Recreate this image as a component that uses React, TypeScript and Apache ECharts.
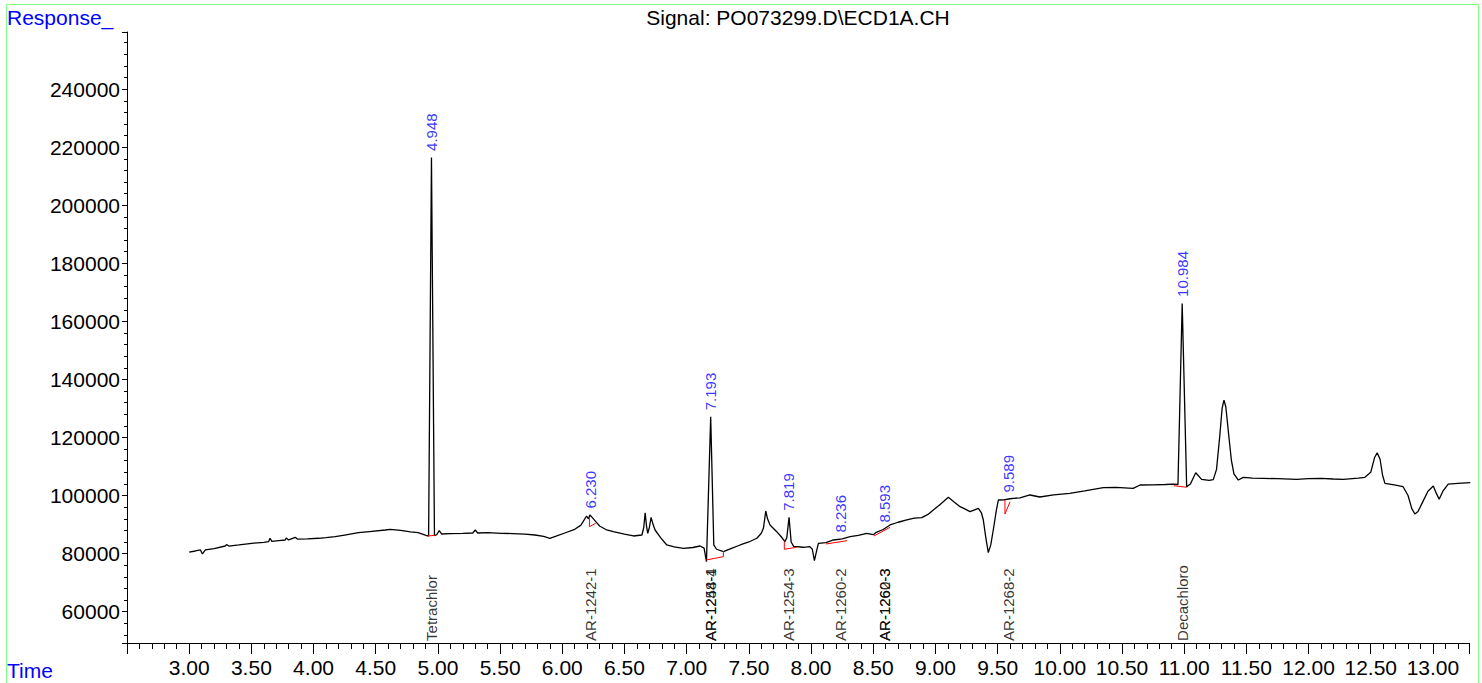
import React, { useEffect, useRef } from "react";
import * as echarts from "echarts";

// Chromatogram trace: [time (min), response]
const trace: [number, number][] = [
  [3.0, 80500], [3.05, 80900], [3.09, 81250], [3.107, 79870], [3.13, 81250], [3.2, 81700],
  [3.29, 82620], [3.3, 83100], [3.32, 82600], [3.4, 83000], [3.504, 83550], [3.6, 83900],
  [3.638, 84100], [3.65, 85280], [3.665, 84200], [3.72, 84500], [3.772, 84690], [3.78, 85400],
  [3.8, 84700], [3.852, 85620], [3.87, 85000], [3.95, 85100], [4.04, 85280], [4.1, 85500],
  [4.174, 85830], [4.25, 86400], [4.361, 87200], [4.45, 87600], [4.576, 88130], [4.616, 88370],
  [4.7, 88000], [4.78, 87500], [4.84, 87200], [4.905, 86300], [4.925, 86100], [4.948, 216500],
  [4.972, 86200], [4.99, 86500], [5.01, 87900], [5.03, 86760], [5.1, 86900], [5.2, 87000],
  [5.28, 87100], [5.3, 88130], [5.32, 87100], [5.4, 87200], [5.51, 87000], [5.6, 86900],
  [5.7, 86700], [5.78, 86410], [5.85, 85900], [5.9, 85280], [5.95, 86000], [6.02, 87100],
  [6.1, 88370], [6.15, 89800], [6.195, 92950], [6.21, 92000], [6.222, 93300], [6.245, 92200],
  [6.276, 90650], [6.3, 89500], [6.35, 88300], [6.41, 87550], [6.5, 86700], [6.572, 86070],
  [6.64, 86410], [6.655, 89000], [6.666, 94090], [6.677, 89500], [6.687, 87000], [6.7, 89000],
  [6.714, 92500], [6.73, 90000], [6.746, 88130], [6.79, 85500], [6.84, 82970], [6.9, 82300],
  [6.974, 81830], [7.05, 82100], [7.108, 82620], [7.14, 81900], [7.159, 77200], [7.193, 127150],
  [7.218, 83000], [7.24, 81500], [7.296, 80660], [7.35, 81600], [7.43, 82970], [7.5, 84000],
  [7.564, 85280], [7.6, 87000], [7.617, 88720], [7.636, 94680], [7.65, 92000], [7.67, 89860],
  [7.724, 87550], [7.76, 85800], [7.79, 84100], [7.805, 85500], [7.823, 92500], [7.84, 84000],
  [7.86, 82500], [7.938, 82180], [7.99, 82400], [8.01, 81500], [8.027, 77560], [8.045, 81000],
  [8.059, 83550], [8.12, 83800], [8.18, 84690], [8.25, 85100], [8.314, 85830], [8.38, 86300],
  [8.448, 87000], [8.5, 86500], [8.52, 87200], [8.58, 88300], [8.635, 89860], [8.7, 90800],
  [8.77, 91580], [8.83, 92200], [8.89, 92370], [8.94, 93500], [8.983, 95020], [9.04, 97000],
  [9.104, 99390], [9.15, 97800], [9.198, 96160], [9.24, 95300], [9.278, 94440], [9.31, 95000],
  [9.345, 95600], [9.37, 94000], [9.385, 91580], [9.405, 85500], [9.425, 80320], [9.445, 83000],
  [9.465, 88130], [9.49, 95000], [9.506, 98460], [9.55, 98500], [9.6, 98900], [9.626, 99050],
  [9.68, 99200], [9.76, 100190], [9.84, 99500], [9.95, 100200], [10.08, 100770], [10.2, 101600],
  [10.35, 102700], [10.45, 102800], [10.59, 102490], [10.645, 103630], [10.75, 103700],
  [10.85, 103800], [10.912, 103970], [10.95, 103800], [10.984, 166200], [11.02, 103000],
  [11.05, 104000], [11.093, 107860], [11.14, 105590], [11.2, 105200], [11.234, 105500],
  [11.26, 109000], [11.285, 120000], [11.305, 130000], [11.32, 132900], [11.335, 130500],
  [11.36, 120000], [11.38, 112000], [11.4, 107500], [11.435, 105350], [11.475, 106280],
  [11.55, 106000], [11.636, 105930], [11.75, 105800], [11.904, 105590], [12.0, 105800],
  [12.1, 105900], [12.2, 105700], [12.28, 105590], [12.4, 106000], [12.453, 106280],
  [12.5, 108000], [12.53, 113000], [12.552, 114750], [12.575, 112500], [12.595, 107000],
  [12.614, 104210], [12.7, 103600], [12.76, 103050], [12.8, 100000], [12.83, 95500],
  [12.855, 93640], [12.88, 94500], [12.92, 98000], [12.96, 101500], [13.003, 103280],
  [13.025, 101000], [13.05, 98700], [13.08, 101500], [13.123, 103970], [13.2, 104200],
  [13.3, 104420],
];

// Integration baselines (red), each a short polyline of [time, response]
const baselineSegments: [number, number][][] = [
  [[4.91, 86000], [4.982, 86350]],
  [[6.218, 92500], [6.218, 89270], [6.269, 90440]],
  [[7.156, 77800], [7.295, 78940], [7.295, 80900]],
  [[7.785, 84100], [7.785, 81490], [7.885, 82180]],
  [[8.12, 83310], [8.29, 84450]],
  [[8.506, 86070], [8.635, 89060]],
  [[9.559, 98460], [9.559, 93640], [9.6, 97880]],
  [[10.918, 103390], [11.02, 102840]],
];

// Retention-time labels
const peakTimes = [4.948, 6.23, 7.193, 7.819, 8.236, 8.593, 9.589, 10.984];
const peakTexts = ["4.948", "6.230", "7.193", "7.819", "8.236", "8.593", "9.589", "10.984"];
const peakTops = [216500, 93300, 127150, 92500, 85030, 88480, 98800, 166200];

// Compound names along the bottom
const compoundTimes = [4.948, 6.23, 7.193, 7.193, 7.819, 8.236, 8.593, 8.593, 9.589, 10.984];
const compoundNames = [
  "Tetrachlor", "AR-1242-1", "AR-1248-4", "AR-1254-1", "AR-1254-3",
  "AR-1260-2", "AR-1260-3", "AR-1262-3", "AR-1268-2", "Decachloro",
];

const X_MIN = 2.5;
const X_MAX = 13.29;
const Y_MIN = 49200;
const Y_MAX = 259700;

const FONT = "'Liberation Sans', Arial, sans-serif";

export default function App() {
  const ref = useRef<HTMLDivElement>(null);

  useEffect(() => {
    if (!ref.current) return;
    const chart = echarts.init(ref.current, null, { renderer: "svg" });

    const baselineSeries = baselineSegments.map((seg) => ({
      type: "line",
      data: seg,
      showSymbol: false,
      symbol: "none",
      lineStyle: { color: "#ff0000", width: 1 },
      z: 3,
      silent: true,
    }));

    const option: any = {
      animation: false,
      grid: { left: 127, right: 13, top: 32, bottom: 40, containLabel: false },
      graphic: [
        {
          type: "rect",
          shape: { x: 6.5, y: 4.5, width: 1472, height: 700 },
          style: { fill: "none", stroke: "#80ff80", lineWidth: 1 },
          silent: true,
        },
        {
          type: "text",
          x: 7,
          y: 17,
          style: { text: "Response_", fill: "#0000ff", font: `21px ${FONT}`, verticalAlign: "middle", align: "left" },
        },
        {
          type: "text",
          x: 7,
          y: 670,
          style: { text: "Time", fill: "#0000ff", font: `21px ${FONT}`, verticalAlign: "middle", align: "left" },
        },
        {
          type: "text",
          x: 798,
          y: 17,
          style: { text: "Signal: PO073299.D\\ECD1A.CH", fill: "#000", font: `21px ${FONT}`, verticalAlign: "middle", align: "center" },
        },
      ],
      xAxis: {
        type: "value",
        min: X_MIN,
        max: X_MAX,
        interval: 0.5,
        splitLine: { show: false },
        axisLine: { show: true, lineStyle: { color: "#000", width: 1 } },
        axisTick: { show: true, length: 11, lineStyle: { color: "#000" } },
        minorTick: { show: true, splitNumber: 5, length: 6, lineStyle: { color: "#000" } },
        axisLabel: {
          color: "#000",
          fontSize: 21,
          fontFamily: FONT,
          margin: 14,
          showMinLabel: false,
          showMaxLabel: false,
          formatter: (v: number) => (Math.abs(v * 2 - Math.round(v * 2)) < 1e-6 && v >= 3 ? v.toFixed(2) : ""),
        },
      },
      yAxis: {
        type: "value",
        min: Y_MIN,
        max: Y_MAX,
        minInterval: 20000,
        maxInterval: 20000,
        splitNumber: 10,
        splitLine: { show: false },
        axisLine: { show: true, lineStyle: { color: "#000", width: 1 } },
        axisTick: { show: true, length: 5, lineStyle: { color: "#000" } },
        minorTick: { show: true, splitNumber: 5, length: 3, lineStyle: { color: "#000" } },
        axisLabel: {
          color: "#000",
          fontSize: 21,
          fontFamily: FONT,
          margin: 7,
          showMinLabel: false,
          showMaxLabel: false,
          formatter: (v: number) => (v % 20000 === 0 ? String(v) : ""),
        },
      },
      series: [
        {
          type: "line",
          data: trace,
          showSymbol: false,
          symbol: "none",
          lineStyle: { color: "#000", width: 1.3 },
          z: 2,
          silent: true,
        },
        ...baselineSeries,
        {
          type: "scatter",
          data: peakTimes.map((t, i) => ({ value: [t, peakTops[i]], name: peakTexts[i] })),
          symbolSize: 1,
          itemStyle: { color: "transparent" },
          silent: true,
          z: 4,
          label: {
            show: true,
            formatter: "{b}",
            position: "top",
            distance: 6,
            rotate: 90,
            align: "left",
            verticalAlign: "middle",
            color: "#0000ff",
            fontSize: 15,
            fontFamily: FONT,
          },
        },
        {
          type: "scatter",
          data: compoundTimes.map((t, i) => ({ value: [t, Y_MIN + 200], name: compoundNames[i] })),
          symbolSize: 1,
          itemStyle: { color: "transparent" },
          silent: true,
          z: 4,
          label: {
            show: true,
            formatter: "{b}",
            position: "top",
            distance: 1,
            rotate: 90,
            align: "left",
            verticalAlign: "middle",
            color: "#000",
            fontSize: 15,
            fontFamily: FONT,
          },
        },
      ],
    };

    chart.setOption(option);
    return () => chart.dispose();
  }, []);

  return (
    <div
      ref={ref}
      style={{ position: "absolute", left: 0, top: 0, width: 1482, height: 683, background: "#fff" }}
    />
  );
}
